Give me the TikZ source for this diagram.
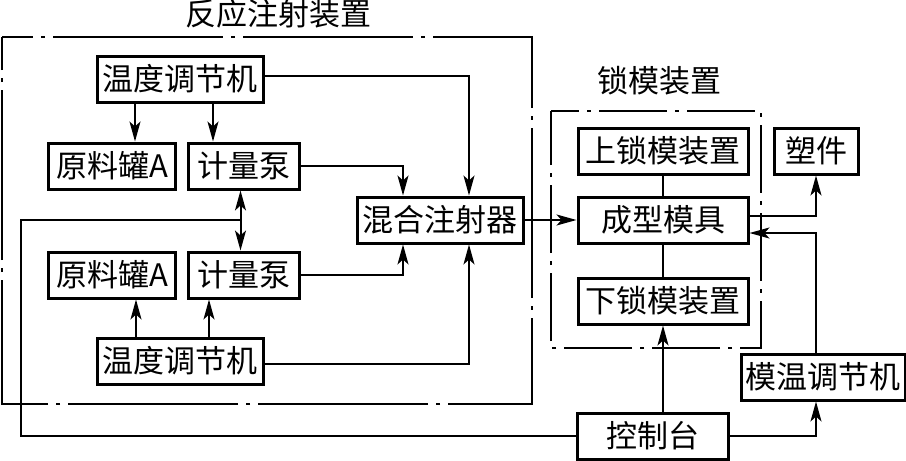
\documentclass[tikz,border=0pt]{standalone}
\usepackage{fontspec}
\setmainfont{Noto Sans CJK SC}
\usetikzlibrary{arrows.meta,positioning,calc}

\begin{document}
\begin{tikzpicture}[
    x=0.5pt, y=-0.5pt,
    font=\fontsize{15.5pt}{18pt}\selectfont,
    block/.style={rectangle, draw, line width=1.5pt, align=center, minimum height=23pt, inner sep=2pt},
    title/.style={inner sep=0pt},
    frame/.style={line width=1pt, dash pattern=on 85pt off 4pt on 2pt off 4pt},
    line/.style={line width=1pt},
    arr/.style={line, -{Stealth[length=10pt, width=5.5pt, inset=2.5pt]}},
    dbl/.style={line, {Stealth[length=10pt, width=5.5pt, inset=2.5pt]}-{Stealth[length=10pt, width=5.5pt, inset=2.5pt]}}
]
\useasboundingbox (0,0) rectangle (906,461);

% Frames and titles
\draw[frame, dash phase=69.5pt] (2,37) -- (532,37) -- (532,404) -- (2,404) -- cycle;
\draw[frame, dash pattern=on 34pt off 4pt on 2pt off 4pt, dash phase=20pt] (551,111) -- (761,111) -- (761,348) -- (551,348) -- cycle;
\node[title] (react_title) at (278,14) {反应注射装置};
\node[title] (clamp_title) at (659,81) {锁模装置};

% Reaction injection unit
\node[block, minimum width=83pt] (temp_top) at (180,79) {温度调节机};
\node[block, minimum width=63.5pt] (tank_top) at (112,166) {原料罐A};
\node[block, minimum width=55.5pt, right=5pt of tank_top] (pump_top) {计量泵};
\node[block, minimum width=63.5pt, below=30pt of tank_top] (tank_bot) {原料罐A};
\node[block, minimum width=55.5pt, right=5pt of tank_bot] (pump_bot) {计量泵};
\node[block, minimum width=83pt] (temp_bot) at (180,361) {温度调节机};
\node[block, minimum width=83pt] (mixer) at (440,220) {混合注射器};

% Clamping unit
\node[block, minimum width=85pt] (mould) at (663,220) {成型模具};
\node[block, minimum width=85pt, above=10pt of mould] (upper_clamp) {上锁模装置};
\node[block, minimum width=85pt, below=16pt of mould] (lower_clamp) {下锁模装置};
\node[block, minimum width=42pt, right=11.5pt of upper_clamp] (part) {塑件};
\node[block, minimum width=82pt] (mould_temp) at (823,377) {模温调节机};
\node[block, minimum width=75.5pt] (console) at (653,436) {控制台};

% Points where the arrows meet the boxes
\coordinate (tank_top_in) at ([xshift=11.5pt]tank_top.north);
\coordinate (pump_top_in) at ([xshift=-15.5pt]pump_top.north);
\coordinate (tank_bot_in) at ([xshift=12pt]tank_bot.south);
\coordinate (pump_bot_in) at ([xshift=-17.5pt]pump_bot.south);
\coordinate (pump_link) at ([xshift=-1.75pt]pump_top.south);
\coordinate (mixer_in_a) at ([xshift=-18.5pt]mixer.north);
\coordinate (mixer_in_b) at ([xshift=14.5pt]mixer.north);
\coordinate (mixer_in_c) at ([xshift=-18.5pt]mixer.south);
\coordinate (mixer_in_d) at ([xshift=14.5pt]mixer.south);
\coordinate (mould_out) at ([yshift=2pt]mould.east);
\coordinate (mould_in) at ([yshift=-6.5pt]mould.east);
\coordinate (ctrl_turn) at (21,220);

% Connectors
\draw[arr] (tank_top_in |- temp_top.south) -- (tank_top_in);
\draw[arr] (pump_top_in |- temp_top.south) -- (pump_top_in);
\draw[arr] (tank_bot_in |- temp_bot.north) -- (tank_bot_in);
\draw[arr] (pump_bot_in |- temp_bot.north) -- (pump_bot_in);
\draw[arr] ([yshift=1.5pt]temp_top.east) -| (mixer_in_b);
\draw[arr] (pump_top.east) -| (mixer_in_a);
\draw[arr] (pump_bot.east) -| (mixer_in_c);
\draw[arr] ([yshift=-1.5pt]temp_bot.east) -| (mixer_in_d);
\draw[dbl] (pump_link) -- (pump_link |- pump_bot.north);
\draw[arr] (mixer) -- (mould);
\draw[line] (upper_clamp) -- (mould);
\draw[line] (mould) -- (lower_clamp);
\draw[arr] (mould_out) -| (part.south);
\draw[arr] (mould_temp.north -| part.south) |- (mould_in);
\draw[arr] (console.north -| lower_clamp.south) -- (lower_clamp.south);
\draw[arr] (console.east) -| (mould_temp.south -| part.south);
\draw[line] (console.west) -| (ctrl_turn) -- (ctrl_turn -| pump_link);

\end{tikzpicture}
\end{document}
